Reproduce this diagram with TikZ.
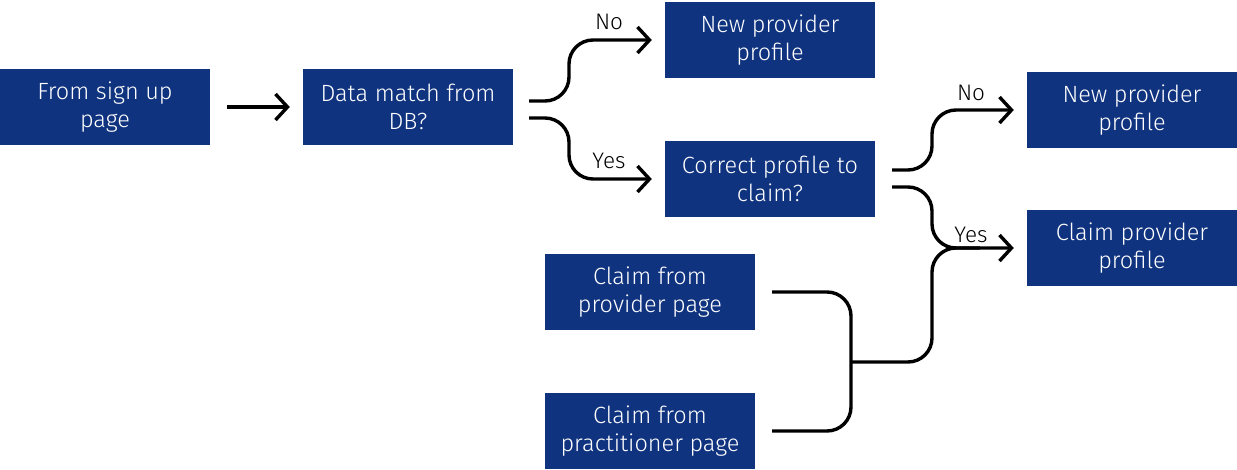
\documentclass[tikz,border=0pt]{standalone}
\usepackage{fontspec}
\setmainfont{Fira Sans}[UprightFont=* Light]
\usetikzlibrary{arrows.meta}
\definecolor{boxblue}{HTML}{10337F}
\tikzset{
  box/.style={fill=boxblue, text=white, minimum width=210pt, minimum height=76pt, inner sep=0pt, align=center, font=\fontsize{23.5}{28}\selectfont},
  conn/.style={line width=3.4pt, rounded corners=24pt},
  arr/.style={-{Straight Barb[length=12pt,width=26pt,line width=3.4pt]}},
  lbl/.style={font=\fontsize{22.5}{24}\selectfont, inner sep=0pt}
}
\begin{document}
\begin{tikzpicture}[x=1pt,y=-1pt]
\useasboundingbox (0,0) rectangle (1237,469);
\node[box] (b1) at (105,107) {From sign up\\page};
\node[box] (b2) at (408,107) {Data match from\\DB?};
\node[box] (b3) at (770,40) {New provider\\profile};
\node[box] (b4) at (770,179) {Correct profile to\\claim?};
\node[box] (b5) at (1132,110) {New provider\\profile};
\node[box] (b6) at (1132,248) {Claim provider\\profile};
\node[box] (b7) at (650,292) {Claim from\\provider page};
\node[box] (b8) at (650,431) {Claim from\\practitioner page};
% first arrow
\draw[conn, arr] ([xshift=17pt]b1.east) -- ([xshift=-13pt]b2.west);
% from b2
\coordinate (b2u) at ([xshift=16pt,yshift=6pt]b2.east);
\coordinate (b2d) at ([xshift=16pt,yshift=-11pt]b2.east);
\draw[conn, arr] (b2u) -- (569,101) -- (569,40) -- ([xshift=-13pt]b3.west);
\draw[conn, arr] (b2d) -- (569,118) -- (569,179) -- ([xshift=-13pt]b4.west);
\node[lbl] (no1) at (609,22) {No};
\node[lbl] (yes1) at (609,161) {Yes};
% from b4
\coordinate (b4u) at ([xshift=17pt,yshift=9pt]b4.east);
\coordinate (b4d) at ([xshift=17pt,yshift=-8pt]b4.east);
\draw[conn, arr] (b4u) -- (932,170) -- (932,110) -- ([xshift=-13pt]b5.west);
\draw[conn, arr] (b4d) -- (932,187) -- (932,248) -- ([xshift=-13pt]b6.west);
\node[lbl] (no2) at (971,93) {No};
\node[lbl] (yes2) at (971,235) {Yes};
% bracket
\coordinate (b7e) at ([xshift=17pt]b7.east);
\coordinate (b8e) at ([xshift=17pt]b8.east);
\coordinate (jn) at (851,362);
\draw[conn] (b7e) -- (851,292) -- (851,431) -- (b8e);
\draw[conn] (jn) -- (932,362) -- (932,248) -- (980,248);
\end{tikzpicture}
\end{document}
